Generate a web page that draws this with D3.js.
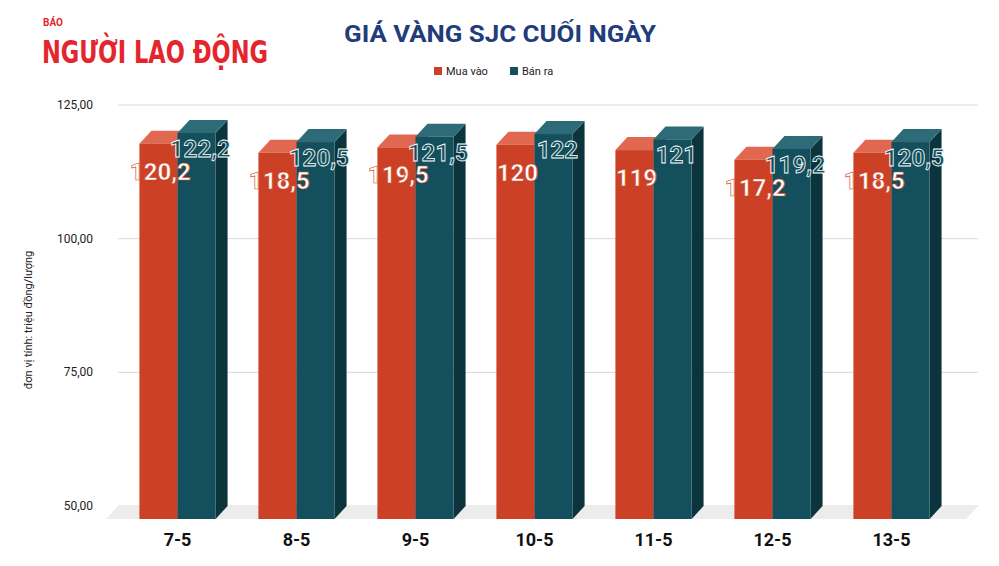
<!DOCTYPE html>
<html><head><meta charset="utf-8">
<script src="https://cdn.jsdelivr.net/npm/d3@7"></script>
<style>body{margin:0;background:#fff}svg{font-family:Roboto,Arial,sans-serif}</style>
</head><body><div id="chart"></div>
<script>
var width = 999, height = 566;

// Data
var days = ['7-5', '8-5', '9-5', '10-5', '11-5', '12-5', '13-5'];
var buy  = [120.2, 118.5, 119.5, 120, 119, 117.2, 118.5];
var sell = [122.2, 120.5, 121.5, 122, 121, 119.2, 120.5];
var yTicks = [50, 75, 100, 125];
var seriesNames = ['Mua vào', 'Bán ra'];

var colBuy = '#cc4125', colBuyTop = '#e06850';
var colSell = '#134f5c', colSellTop = '#2e6b78', colSide = '#0c343d';
var dx = 12, dy = 13;

var svg = d3.select('#chart').append('svg').attr('width', width).attr('height', height);

var x = d3.scaleBand().domain(days).range([118, 951]).paddingInner(0.36).paddingOuter(0.18);
var y = d3.scaleLinear().domain([50, 125]).range([506, 105]);
var fmt = function(v){ return v.toFixed(2).replace('.', ','); };
var lab = function(v){ return String(v).replace('.', ','); };

// gridlines
svg.selectAll('.grid').data(yTicks).enter().append('line')
	.attr('x1', 118).attr('x2', 978)
	.attr('y1', function(d){ return y(d); }).attr('y2', function(d){ return y(d); })
	.attr('stroke', '#d9d9d9');
svg.selectAll('.ytick').data(yTicks).enter().append('text')
	.attr('x', 93).attr('y', function(d){ return y(d) + 4; })
	.attr('text-anchor', 'end').attr('font-size', 12).attr('fill', '#222')
	.text(fmt);

// floor
svg.append('path')
	.attr('d', 'M118,' + (y(50)) + 'L978,' + y(50) + 'L966,' + (y(50) + dy) + 'L106,' + (y(50) + dy) + 'Z')
	.attr('fill', '#ececec');

svg.append('text').attr('transform', 'translate(32,' + 320 + ') rotate(-90)')
	.attr('text-anchor', 'middle').attr('font-size', 11).attr('fill', '#222')
	.text('đơn vị tính: triệu đồng/lượng');

var bw = x.bandwidth() / 2;
var g = svg.selectAll('.grp').data(days).enter().append('g');

function bar3d(sel, vals, off, front, top, side) {
	sel.append('path').attr('fill', side).attr('d', function(d, i){
		var x1 = x(d) + off + bw, t = y(vals[i]) + dy, b = y(50) + dy;
		return 'M' + x1 + ',' + t + 'L' + (x1 + dx) + ',' + (t - dy) + 'L' + (x1 + dx) + ',' + (b - dy) + 'L' + x1 + ',' + b + 'Z';
	});
	sel.append('path').attr('fill', top).attr('d', function(d, i){
		var x0 = x(d) + off, t = y(vals[i]) + dy;
		return 'M' + x0 + ',' + t + 'L' + (x0 + dx) + ',' + (t - dy) + 'L' + (x0 + bw + dx) + ',' + (t - dy) + 'L' + (x0 + bw) + ',' + t + 'Z';
	});
	sel.append('rect').attr('fill', front)
		.attr('x', function(d){ return x(d) + off; }).attr('width', bw)
		.attr('y', function(d, i){ return y(vals[i]) + dy; })
		.attr('height', function(d, i){ return y(50) - y(vals[i]); });
}
bar3d(g, buy, 0, colBuy, colBuyTop, '#a33');
bar3d(g, sell, bw, colSell, colSellTop, colSide);

g.append('text').attr('x', function(d){ return x(d) + bw * 0.55; })
	.attr('y', function(d, i){ return y(buy[i]) + dy + 36; })
	.attr('text-anchor', 'middle').attr('font-size', 24).attr('font-weight', 'bold')
	.attr('fill', '#fff').attr('stroke', colBuy).attr('stroke-width', 0.6)
	.text(function(d, i){ return lab(buy[i]); });
g.append('text').attr('x', function(d){ return x(d) + bw * 1.6; })
	.attr('y', function(d, i){ return y(sell[i]) + dy + 24; })
	.attr('text-anchor', 'middle').attr('font-size', 24).attr('font-weight', 'bold')
	.attr('fill', colSell).attr('stroke', '#fff').attr('stroke-width', 0.8)
	.text(function(d, i){ return lab(sell[i]); });

svg.selectAll('.xtick').data(days).enter().append('text')
	.attr('x', function(d){ return x(d) + bw; }).attr('y', 546)
	.attr('text-anchor', 'middle').attr('font-size', 18).attr('font-weight', 'bold').attr('fill', '#111')
	.text(function(d){ return d; });

// title + legend
svg.append('text').attr('x', 500).attr('y', 42).attr('text-anchor', 'middle')
	.attr('font-size', 23).attr('font-weight', 'bold').attr('fill', '#1f3d7a')
	.attr('textLength', 312).attr('lengthAdjust', 'spacingAndGlyphs')
	.text('GIÁ VÀNG SJC CUỐI NGÀY');
var leg = svg.selectAll('.leg').data(seriesNames).enter().append('g')
	.attr('transform', function(d, i){ return 'translate(' + (434 + i * 76) + ',67)'; });
leg.append('rect').attr('width', 8).attr('height', 8).attr('fill', function(d, i){ return i ? colSell : colBuy; });
leg.append('text').attr('x', 12).attr('y', 8).attr('font-size', 11).attr('fill', '#222').text(function(d){ return d; });

// logo
svg.append('text').attr('x', 43).attr('y', 26).attr('font-size', 10).attr('font-weight', 'bold')
	.attr('fill', '#e3262d').text('BÁO');
svg.append('text').attr('x', 42).attr('y', 63).attr('font-size', 32).attr('font-weight', 900)
	.attr('font-family', '"Liberation Sans Narrow","DejaVu Sans Condensed",sans-serif')
	.attr('textLength', 226).attr('lengthAdjust', 'spacingAndGlyphs')
	.attr('fill', '#e3262d').text('NGƯỜI LAO ĐỘNG');
</script></body></html>
